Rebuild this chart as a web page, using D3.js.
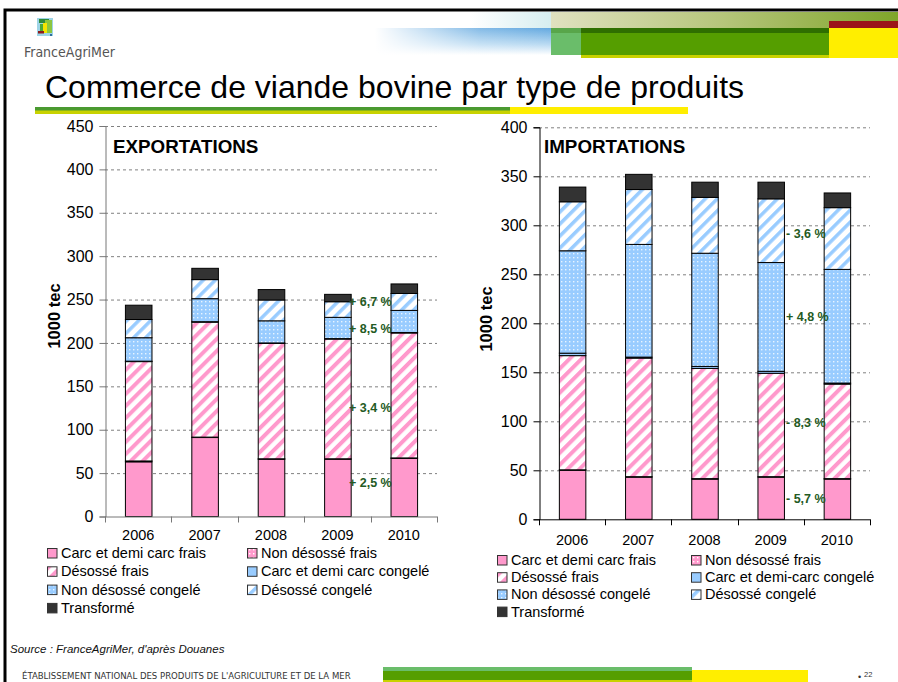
<!DOCTYPE html>
<html><head><meta charset="utf-8">
<script src="https://cdn.jsdelivr.net/npm/d3@7"></script>
<style>body{margin:0;background:#fff}svg{display:block;font-family:"Liberation Sans",Arial,sans-serif}</style>
</head><body><svg id="c" width="898" height="682"></svg>
<script>
// ---------- DATA ----------
const years = ["2006", "2007", "2008", "2009", "2010"];
const seriesKeys = ["carcFrais", "nonDesFrais", "desFrais", "carcCongele", "nonDesCongele", "desCongele", "transforme"];
const exportLabels = ["Carc et demi carc frais", "Non désossé frais", "Désossé frais", "Carc et demi carc congelé", "Non désossé congelé", "Désossé congelé", "Transformé"];
const importLabels = ["Carc et demi carc frais", "Non désossé frais", "Désossé frais", "Carc et demi-carc congelé", "Non désossé congelé", "Désossé congelé", "Transformé"];

// Exportations (1000 tec)
const expCarcFrais     = [63, 91, 66, 66, 67];
const expNonDesFrais   = [1, 0.5, 0.5, 0.5, 0.5];
const expDesFrais      = [114.5, 132.5, 133, 138, 144];
const expCarcCongele   = [0.5, 0.5, 0.5, 0.5, 0.5];
const expNonDesCongele = [27, 26.5, 25.5, 24.5, 25.5];
const expDesCongele    = [21, 22, 24, 18, 19.5];
const expTransforme    = [16.5, 13, 12, 8.5, 11];

// Importations (1000 tec)
const impCarcFrais     = [50, 43, 41, 43, 41];
const impNonDesFrais   = [0.5, 0.5, 0.5, 0.5, 0.5];
const impDesFrais      = [116.5, 121, 112.5, 105.5, 96.5];
const impCarcCongele   = [2.5, 1, 2, 2, 1];
const impNonDesCongele = [104.5, 115, 115.5, 111, 116];
const impDesCongele    = [50, 56, 57, 65, 63];
const impTransforme    = [15, 15.5, 15.5, 17, 15];

const expTicks = [0, 50, 100, 150, 200, 250, 300, 350, 400, 450];
const impTicks = [0, 50, 100, 150, 200, 250, 300, 350, 400];

const expNotes = ["+ 6,7 %", "+ 8,5 %", "+ 3,4 %", "+ 2,5 %"];
const impNotes = ["- 3,6 %", "+ 4,8 %", "- 8,3 %", "- 5,7 %"];

// ---------- DRAW ----------
const svg = d3.select("#c");
const defs = svg.append("defs");

function stripe(id, color, size, w) {
  const p = defs.append("pattern").attr("id", id).attr("patternUnits", "userSpaceOnUse")
    .attr("width", size).attr("height", size).attr("patternTransform", "rotate(45)");
  p.append("rect").attr("width", size).attr("height", size).attr("fill", "#fff");
  p.append("rect").attr("width", w).attr("height", size).attr("fill", color);
}
function dots(id, bg, dot) {
  const p = defs.append("pattern").attr("id", id).attr("patternUnits", "userSpaceOnUse")
    .attr("width", 4).attr("height", 4);
  p.append("rect").attr("width", 4).attr("height", 4).attr("fill", bg);
  p.append("rect").attr("x", 1).attr("y", 1).attr("width", 1.4).attr("height", 1.4).attr("fill", dot);
}
stripe("stPink", "#ff99cc", 8.5, 4);
stripe("stBlue", "#99ccff", 8.5, 3.5);
dots("dtPink", "#ff99cc", "#fff");
dots("dtBlue", "#99ccff", "#e8f4ff");

const fills = ["#ff99cc", "url(#dtPink)", "url(#stPink)", "#99ccff", "url(#dtBlue)", "url(#stBlue)", "#333333"];

function gradient(id, x2, y2, stops) {
  const g = defs.append("linearGradient").attr("id", id).attr("x1", 0).attr("y1", 0).attr("x2", x2).attr("y2", y2);
  stops.forEach(s => g.append("stop").attr("offset", s[0]).attr("stop-color", s[1]).attr("stop-opacity", s[2] == null ? 1 : s[2]));
}
gradient("gOlive", 1, 0, [[0, "#e0e1c0"], [0.5, "#b5c57a"], [1, "#7fa52a"]]);
gradient("gBlueV", 0, 1, [[0, "#64a9e0"], [0.6, "#b9daf2"], [1, "#ffffff"]]);
gradient("gBlueH", 1, 0, [[0, "#ffffff", 1], [0.6, "#ffffff", 0.2], [1, "#ffffff", 0]]);
gradient("gCyan", 1, 0, [[0, "#ffffff"], [1, "#d6eef0"]]);

// frame
svg.append("rect").attr("x", 5).attr("y", 10).attr("width", 1000).attr("height", 1000)
  .attr("fill", "none").attr("stroke", "#000").attr("stroke-width", 3);

// header decorations
svg.append("rect").attr("x", 470).attr("y", 12).attr("width", 81).attr("height", 16).attr("fill", "url(#gCyan)");
svg.append("rect").attr("x", 375).attr("y", 28).attr("width", 176).attr("height", 27).attr("fill", "url(#gBlueV)");
svg.append("rect").attr("x", 375).attr("y", 28).attr("width", 176).attr("height", 27).attr("fill", "url(#gBlueH)");
svg.append("rect").attr("x", 551).attr("y", 12).attr("width", 347).attr("height", 16).attr("fill", "url(#gOlive)");
svg.append("rect").attr("x", 829).attr("y", 21).attr("width", 69).attr("height", 7).attr("fill", "#9b1419");
svg.append("rect").attr("x", 829).attr("y", 28).attr("width", 69).attr("height", 30).attr("fill", "#ffee00");
svg.append("rect").attr("x", 551).attr("y", 28).attr("width", 30).attr("height", 27).attr("fill", "#6abd6a");
svg.append("rect").attr("x", 551).attr("y", 28).attr("width", 30).attr("height", 5).attr("fill", "#58a64a");
svg.append("rect").attr("x", 581).attr("y", 28).attr("width", 248).attr("height", 30).attr("fill", "#c8d200");
svg.append("rect").attr("x", 581).attr("y", 28).attr("width", 248).attr("height", 27).attr("fill", "#559e00");
svg.append("rect").attr("x", 581).attr("y", 28).attr("width", 248).attr("height", 5).attr("fill", "#2f6f00");

// logo
const logo = svg.append("g");
logo.append("rect").attr("x", 37).attr("y", 18).attr("width", 16).attr("height", 18).attr("fill", "#9ed4e6");
logo.append("rect").attr("x", 39).attr("y", 19).attr("width", 10).attr("height", 4).attr("fill", "#2e8b3a");
logo.append("rect").attr("x", 45).attr("y", 20).attr("width", 7).attr("height", 13).attr("fill", "#8cc63f");
logo.append("rect").attr("x", 43).attr("y", 23).attr("width", 4).attr("height", 10).attr("fill", "#f5e400");
logo.append("rect").attr("x", 40).attr("y", 24).attr("width", 3).attr("height", 8).attr("fill", "#4aa83a");
logo.append("rect").attr("x", 38).attr("y", 31).attr("width", 6).attr("height", 2.5).attr("fill", "#8b1a1a");
logo.append("rect").attr("x", 50).attr("y", 34).attr("width", 2).attr("height", 2).attr("fill", "#2e6e9e");
svg.append("text").attr("x", 24).attr("y", 57).attr("font-family", "'Liberation Sans Narrow','DejaVu Sans Condensed',sans-serif")
  .attr("font-size", 14).attr("fill", "#555").text("FranceAgriMer");

// title
svg.append("text").attr("x", 45).attr("y", 98).attr("font-size", 32).attr("fill", "#000")
  .text("Commerce de viande bovine par type de produits");
svg.append("rect").attr("x", 35).attr("y", 107).attr("width", 475).attr("height", 7).attr("fill", "#c8d200");
svg.append("rect").attr("x", 35).attr("y", 107).attr("width", 475).attr("height", 3.5).attr("fill", "#4a9a30");
svg.append("rect").attr("x", 510).attr("y", 107).attr("width", 178).attr("height", 7).attr("fill", "#ffee00");

function buildRows(arrs) {
  return years.map((y, i) => {
    const o = { year: y };
    seriesKeys.forEach((k, j) => o[k] = arrs[j][i]);
    return o;
  });
}

function drawChart(cfg) {
  const g = svg.append("g");
  const x = d3.scaleBand().domain(years).range([cfg.x0, cfg.x1]).paddingInner(0.6).paddingOuter(0.3);
  const y = d3.scaleLinear().domain([0, cfg.ticks[cfg.ticks.length - 1]]).range([cfg.yBase, cfg.yTop]);

  // grid
  g.selectAll(".grid").data(cfg.ticks.filter(t => t > 0)).join("line")
    .attr("x1", cfg.x0).attr("x2", cfg.x1)
    .attr("y1", d => y(d) + 0.5).attr("y2", d => y(d) + 0.5)
    .attr("stroke", "#808080").attr("stroke-dasharray", "3,3").attr("stroke-width", 1);

  // bars
  const stack = d3.stack().keys(seriesKeys)(buildRows(cfg.series));
  stack.forEach((layer, li) => {
    g.append("g").selectAll("rect").data(layer).join("rect")
      .attr("x", d => x(d.data.year) + 0.5)
      .attr("width", x.bandwidth())
      .attr("y", d => y(d[1]))
      .attr("height", d => y(d[0]) - y(d[1]))
      .attr("fill", fills[li])
      .attr("stroke", "#000").attr("stroke-width", 1);
  });

  // y axis
  const ya = g.append("g").attr("transform", `translate(${cfg.x0 + 0.5},0)`)
    .call(d3.axisLeft(y).tickValues(cfg.ticks).tickSize(6).tickPadding(6).tickFormat(d3.format("d")));
  ya.select(".domain").attr("stroke", cfg.axisColor);
  ya.selectAll(".tick line").attr("stroke", cfg.axisColor);
  ya.selectAll(".tick text").attr("font-size", 16).attr("font-family", "'Liberation Sans',Arial,sans-serif").attr("fill", "#000");

  // x axis
  const xa = g.append("g");
  xa.append("line").attr("x1", cfg.x0).attr("x2", cfg.x1).attr("y1", cfg.yBase + 0.5).attr("y2", cfg.yBase + 0.5)
    .attr("stroke", cfg.axisColor);
  const edges = years.map((yr, i) => cfg.x0 + i * x.step()).concat([cfg.x1]);
  xa.selectAll(".xt").data(edges).join("line")
    .attr("x1", d => Math.round(d) + 0.5).attr("x2", d => Math.round(d) + 0.5)
    .attr("y1", cfg.yBase).attr("y2", cfg.yBase + 6).attr("stroke", cfg.axisColor);
  xa.selectAll(".xl").data(years).join("text")
    .attr("x", d => x(d) + x.bandwidth() / 2).attr("y", cfg.yBase + cfg.xLabelDy)
    .attr("text-anchor", "middle").attr("font-size", 14.5).text(d => d);

  // headings
  g.append("text").attr("x", cfg.headX).attr("y", 153).attr("font-size", 18.8).attr("font-weight", "bold").text(cfg.heading);
  g.append("text").attr("transform", `translate(${cfg.yTitleX},${cfg.yTitleY}) rotate(-90)`)
    .attr("text-anchor", "middle").attr("font-size", 16.5).attr("font-weight", "bold").text("1000 tec");

  // notes
  cfg.notes.forEach((t, i) => {
    g.append("text").attr("x", cfg.noteX).attr("y", y(cfg.noteAt[i])).attr("dy", "0.35em")
      .attr("font-size", 12.5).attr("font-weight", "bold").attr("fill", "#245a24").text(t);
  });

  // legend
  cfg.labels.forEach((lab, i) => {
    const col = i % 2, row = Math.floor(i / 2);
    const ly = cfg.legY + row * cfg.legStep;
    const mx = col === 0 ? cfg.legX1 : cfg.legX2;
    g.append("rect").attr("x", mx + 0.5).attr("y", ly - 4.5).attr("width", 9.5).attr("height", 9.5)
      .attr("fill", fills[i]).attr("stroke", "#333").attr("stroke-width", 1);
    g.append("text").attr("x", mx + 14).attr("y", ly).attr("dy", "0.35em").attr("font-size", 14.5).text(lab);
  });
}

drawChart({
  series: [expCarcFrais, expNonDesFrais, expDesFrais, expCarcCongele, expNonDesCongele, expDesCongele, expTransforme],
  ticks: expTicks, labels: exportLabels, heading: "EXPORTATIONS", notes: expNotes,
  noteAt: [247.5, 217, 125, 38.5], noteX: 349,
  x0: 105, x1: 437, yBase: 516.5, yTop: 126, axisColor: "#777", xLabelDy: 23,
  headX: 113, yTitleX: 60, yTitleY: 316,
  legX1: 47, legX2: 247, legY: 553, legStep: 18.3
});
drawChart({
  series: [impCarcFrais, impNonDesFrais, impDesFrais, impCarcCongele, impNonDesCongele, impDesCongele, impTransforme],
  ticks: impTicks, labels: importLabels, heading: "IMPORTATIONS", notes: impNotes,
  noteAt: [291, 206.5, 98.5, 21.5], noteX: 786,
  x0: 539, x1: 870, yBase: 519.3, yTop: 127.3, axisColor: "#000", xLabelDy: 26,
  headX: 544, yTitleX: 492, yTitleY: 319,
  legX1: 497, legX2: 691, legY: 560, legStep: 17.2
});

// source & footer
svg.append("text").attr("x", 10).attr("y", 653).attr("font-size", 11.5).attr("font-style", "italic").attr("fill", "#111")
  .text("Source : FranceAgriMer, d'après Douanes");
svg.append("text").attr("x", 22).attr("y", 679).attr("font-family", "'Liberation Sans Narrow','DejaVu Sans Condensed',sans-serif")
  .attr("font-size", 9.5).attr("fill", "#333").text("ÉTABLISSEMENT NATIONAL DES PRODUITS DE L'AGRICULTURE ET DE LA MER");
svg.append("rect").attr("x", 692).attr("y", 670).attr("width", 116).attr("height", 12).attr("fill", "#ffee00");
svg.append("rect").attr("x", 383).attr("y", 667).attr("width", 309).attr("height", 15).attr("fill", "#c8d200");
svg.append("rect").attr("x", 383).attr("y", 667).attr("width", 309).attr("height", 13).attr("fill", "#559e00");
svg.append("rect").attr("x", 383).attr("y", 667).attr("width", 309).attr("height", 4).attr("fill", "#6abd6a");
svg.append("text").attr("x", 858).attr("y", 680).attr("font-size", 9).attr("fill", "#333").text("•");
svg.append("text").attr("x", 864).attr("y", 677).attr("font-size", 7.5).attr("fill", "#333").text("22");
</script></body></html>
